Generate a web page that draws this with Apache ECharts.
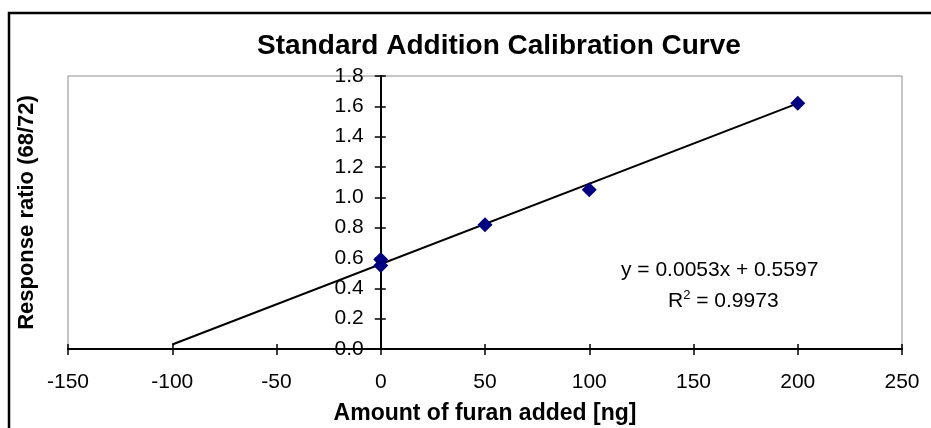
<!DOCTYPE html>
<html>
<head>
<meta charset="utf-8">
<script src="https://cdn.jsdelivr.net/npm/echarts@6/dist/echarts.min.js"></script>
<style>
  html, body { margin: 0; padding: 0; background: #ffffff; }
  #chart { width: 931px; height: 428px; }
</style>
</head>
<body>
<div id="chart"></div>
<script>
// Measured responses for the standard-addition series
const amountAdded = [0, 0, 50, 100, 200];
const responseRatio = [0.59, 0.55, 0.82, 1.05, 1.62];

// Linear fit reported for the calibration
const fitSlope = 0.0053;
const fitIntercept = 0.5597;
const fitRange = [-100, 200];
const fitR2 = '0.9973';

// Axis ranges
const xMin = -150, xMax = 250, xStep = 50;
const yMin = 0, yMax = 1.8, yStep = 0.2;

const font = '"Liberation Sans", Arial, sans-serif';

// Plot box
const gridLeft = 68, gridRight = 29, gridTop = 76, gridBottom = 79;
const plotWidth = 931 - gridLeft - gridRight;
// Shift that places the vertical axis at x = 0
const yAxisShift = -plotWidth * (0 - xMin) / (xMax - xMin);

const fitLine = fitRange.map(x => [x, fitSlope * x + fitIntercept]);
const points = amountAdded.map((x, i) => [x, responseRatio[i]]);

const chart = echarts.init(document.getElementById('chart'));

const baseX = {
  type: 'value', min: xMin, max: xMax, interval: xStep,
  position: 'bottom',
  splitLine: { show: false }
};
const baseY = {
  type: 'value', min: yMin, max: yMax, interval: yStep,
  position: 'left', offset: yAxisShift,
  splitLine: { show: false }
};

chart.setOption({
  animation: false,
  backgroundColor: '#ffffff',
  title: {
    text: 'Standard Addition Calibration Curve',
    left: 494, top: 27, textAlign: 'center',
    textStyle: { fontFamily: font, fontWeight: 'bold', fontSize: 28, color: '#000' }
  },
  grid: {
    left: gridLeft, right: gridRight, top: gridTop, bottom: gridBottom,
    outerBoundsMode: 'none', containLabel: false,
    show: true, borderColor: '#8c8c8c', borderWidth: 1, backgroundColor: 'transparent'
  },
  xAxis: [
    Object.assign({}, baseX, {
      name: 'Amount of furan added [ng]',
      nameLocation: 'middle', nameGap: 53,
      nameTextStyle: { fontFamily: font, fontWeight: 'bold', fontSize: 23, color: '#000' },
      axisLine: { onZero: false, lineStyle: { color: '#000', width: 2 } },
      axisTick: { show: true, inside: false, length: 6, lineStyle: { color: '#000', width: 1.5 } },
      axisLabel: { fontFamily: font, fontSize: 21, color: '#000', margin: 23 }
    }),
    Object.assign({}, baseX, {
      axisLine: { show: false, onZero: false },
      axisTick: { show: true, inside: true, length: 5, lineStyle: { color: '#000', width: 1.5 } },
      axisLabel: { show: false }
    })
  ],
  yAxis: [
    Object.assign({}, baseY, {
      name: 'Response ratio (68/72)',
      nameLocation: 'middle', nameGap: 343,
      nameTextStyle: { fontFamily: font, fontWeight: 'bold', fontSize: 22, color: '#000' },
      axisLine: { onZero: false, lineStyle: { color: '#000', width: 2 } },
      axisTick: { show: true, inside: false, length: 6, lineStyle: { color: '#000', width: 1.5 } },
      axisLabel: { fontFamily: font, fontSize: 21, color: '#000', margin: 17,
                   formatter: v => v.toFixed(1) }
    }),
    Object.assign({}, baseY, {
      axisLine: { show: false, onZero: false },
      axisTick: { show: true, inside: true, length: 5, lineStyle: { color: '#000', width: 1.5 } },
      axisLabel: { show: false }
    })
  ],
  graphic: [
    {
      type: 'rect', silent: true, z: 100,
      shape: { x: 9, y: 13, width: 960, height: 460 },
      style: { fill: 'none', stroke: '#000', lineWidth: 2.5 }
    },
    {
      type: 'text', z: 100,
      left: 621, top: 260,
      style: { text: 'y = ' + fitSlope.toFixed(4) + 'x + ' + fitIntercept.toFixed(4),
               font: '21px ' + font, fill: '#000' }
    },
    {
      type: 'text', z: 100,
      left: 668, top: 289,
      style: {
        text: '{b|R}{s|2}{b| = ' + fitR2 + '}',
        rich: {
          b: { fontFamily: font, fontSize: 21, color: '#000', verticalAlign: 'bottom' },
          s: { fontFamily: font, fontSize: 13, color: '#000', verticalAlign: 'top', padding: [0, 0, 10, 0] }
        }
      }
    }
  ],
  series: [
    {
      type: 'line', xAxisIndex: 0, yAxisIndex: 0,
      data: fitLine, showSymbol: false, symbol: 'none',
      lineStyle: { color: '#000', width: 2 }, z: 3
    },
    {
      type: 'scatter', xAxisIndex: 0, yAxisIndex: 0,
      data: points, symbol: 'diamond', symbolSize: 15,
      itemStyle: { color: '#000080', opacity: 1 }, z: 4
    }
  ]
});
</script>
</body>
</html>
